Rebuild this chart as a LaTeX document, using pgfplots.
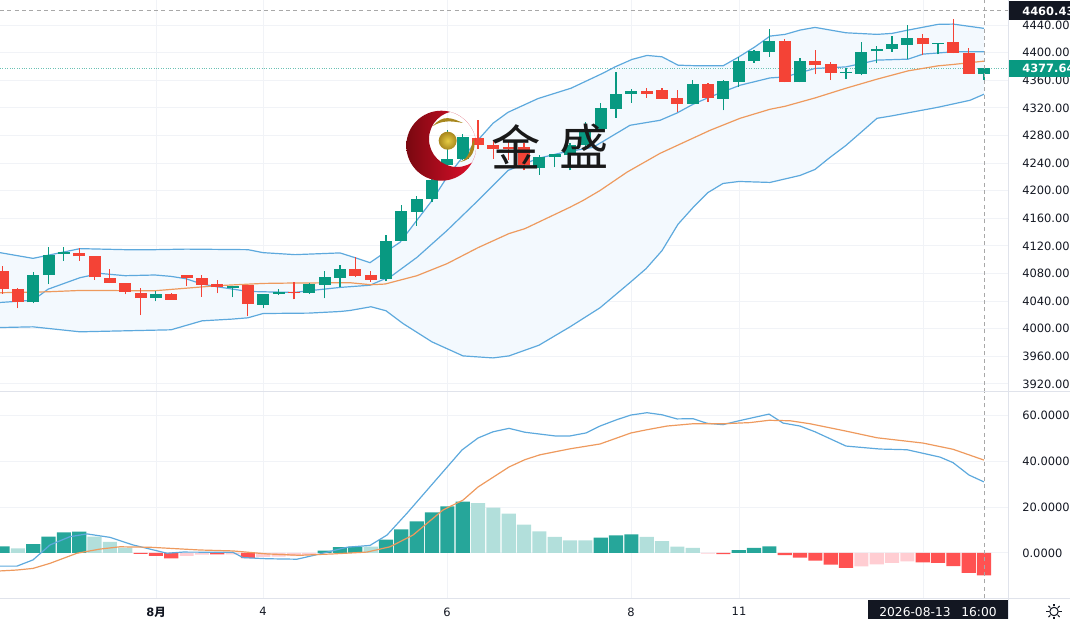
\documentclass[border=0pt]{standalone}
\usepackage{fontspec}
\usepackage{pgfplots}
\usepackage{pgfplotstable}
\pgfplotsset{compat=1.18}
\usepgfplotslibrary{fillbetween}
\setmainfont{DejaVu Sans}
\newfontfamily\cjk{Noto Sans CJK SC}

\definecolor{candleup}{HTML}{089981}
\definecolor{candledown}{HTML}{F44336}
\definecolor{bandline}{HTML}{5DA9DD}
\definecolor{bandfill}{HTML}{F3F9FE}
\definecolor{slowline}{HTML}{EE9A5E}
\definecolor{histup}{HTML}{26A69A}
\definecolor{histuplight}{HTML}{B2DFDB}
\definecolor{histdown}{HTML}{FF5252}
\definecolor{histdownlight}{HTML}{FFCDD2}
\definecolor{gridcol}{HTML}{F1F3F7}
\definecolor{framecol}{HTML}{E0E3EB}
\definecolor{labelcol}{HTML}{131722}
\definecolor{dashcol}{HTML}{A8A8A8}
\definecolor{logodark}{HTML}{7A0810}
\definecolor{logomid}{HTML}{DC001C}
\definecolor{logolight}{HTML}{EE1030}
\definecolor{goldhi}{HTML}{E6CC45}
\definecolor{goldlo}{HTML}{A8871E}

% rising candles: x open high low close
\pgfplotstableread{
x open high low close
33.2 4038.1 4081.7 4036.7 4077.9
48.5 4077.9 4119.0 4064.8 4107.4
63.9 4108.4 4118.0 4098.7 4111.7
155.9 4044.5 4055.1 4039.6 4050.7
232.6 4059.5 4061.3 4045.4 4061.3
263.3 4034.8 4050.7 4029.4 4050.7
278.6 4050.7 4057.6 4048.9 4053.2
309.3 4051.8 4066.3 4050.7 4064.8
324.6 4063.8 4083.7 4043.9 4075.0
340.0 4074.0 4092.9 4059.9 4086.6
386.0 4072.0 4136.0 4069.6 4127.7
401.3 4127.7 4178.6 4127.7 4170.3
416.7 4169.8 4193.0 4149.5 4188.3
432.0 4187.3 4220.7 4183.3 4214.9
447.4 4236.7 4287.5 4229.4 4246.4
462.7 4246.4 4281.7 4243.9 4277.8
539.4 4233.3 4251.2 4223.2 4248.7
554.7 4248.7 4253.6 4234.2 4252.6
570.0 4251.2 4268.6 4229.4 4265.7
585.4 4265.7 4299.0 4258.4 4290.0
600.7 4289.0 4327.1 4289.0 4320.5
616.0 4319.0 4371.7 4306.0 4340.8
631.4 4340.2 4347.0 4327.1 4344.1
692.8 4325.7 4361.1 4325.7 4355.3
723.4 4333.0 4360.1 4316.5 4358.7
738.8 4357.6 4394.0 4350.4 4388.1
754.0 4387.7 4403.7 4385.2 4402.2
769.4 4400.8 4434.2 4394.0 4416.8
800.0 4356.8 4391.6 4356.8 4387.3
846.0 4370.7 4378.0 4361.6 4371.7
861.4 4368.8 4414.9 4367.0 4401.2
876.8 4401.8 4409.5 4384.4 4405.6
892.0 4405.1 4424.5 4401.2 4412.0
907.4 4411.4 4440.0 4390.6 4420.7
938.0 4412.7 4413.6 4397.4 4413.6
984.0 4369.3 4377.6 4360.1 4377.6
}\upcandles

% falling candles: x open high low close
\pgfplotstableread{
x open high low close
2.5 4084.2 4091.4 4050.7 4057.6
17.9 4057.6 4059.5 4029.4 4039.1
79.2 4109.9 4117.1 4098.2 4104.9
94.5 4105.5 4105.9 4071.1 4074.4
109.9 4074.0 4086.6 4066.0 4066.7
125.2 4066.7 4066.7 4049.7 4053.2
140.6 4052.2 4059.0 4019.8 4044.5
171.2 4049.7 4051.8 4042.0 4042.0
186.6 4078.3 4078.3 4062.4 4073.5
201.9 4074.0 4077.9 4046.4 4063.8
217.3 4064.3 4071.1 4051.2 4059.9
247.9 4063.4 4063.4 4017.8 4035.8
294.0 4053.6 4067.7 4042.5 4051.8
355.3 4087.0 4103.5 4074.4 4076.9
370.7 4078.3 4084.2 4068.2 4071.1
478.0 4276.3 4303.0 4261.0 4265.7
493.4 4265.7 4273.0 4246.4 4261.0
508.7 4262.8 4271.5 4243.9 4259.9
524.0 4262.8 4268.6 4229.4 4236.7
646.8 4344.1 4348.5 4335.0 4340.8
662.0 4346.6 4349.5 4333.0 4333.0
677.4 4334.4 4346.6 4314.0 4325.7
708.0 4355.3 4356.2 4328.6 4334.0
784.8 4416.3 4419.2 4356.8 4356.8
815.4 4387.7 4403.7 4368.4 4381.5
830.8 4383.8 4385.8 4360.1 4370.7
922.8 4421.1 4426.9 4396.4 4412.0
953.4 4414.9 4448.7 4398.9 4398.9
968.8 4399.8 4407.0 4368.8 4369.3
}\downcandles

\pgfplotstableread{
x y
0 4110.3
33 4102.0
80 4116.1
125 4114.6
155 4114.6
186 4115.4
248 4114.6
263 4110.3
295 4107.4
340 4109.9
355 4103.0
370 4095.8
386 4111.7
400 4125.3
432 4185.8
447 4219.7
460 4243.9
475 4268.6
493 4297.7
508 4313.6
538 4333.5
571 4348.5
603 4370.3
615 4379.4
632 4390.2
647 4396.0
662 4394.0
678 4381.9
692 4381.2
723 4380.9
739 4394.0
755 4408.5
770 4424.0
785 4426.5
800 4432.7
815 4436.6
846 4428.8
877 4426.5
892 4427.9
908 4432.7
938 4441.0
953 4441.4
984 4435.2
}\bandupper

\pgfplotstableread{
x y
0 4038.1
33 4041.3
48 4057.3
80 4074.0
100 4080.2
125 4076.9
155 4077.9
171 4075.9
186 4072.5
202 4064.8
217 4060.9
232 4057.6
248 4054.1
263 4053.6
294 4052.6
309 4055.1
340 4059.9
370 4063.1
392 4076.9
417 4103.5
447 4142.3
478 4185.8
508 4229.4
538 4246.8
563 4255.5
593 4262.8
630 4294.8
660 4302.0
677 4312.6
693 4325.2
710 4335.9
740 4352.8
770 4363.4
785 4364.9
815 4377.1
846 4379.4
877 4389.2
908 4390.6
923 4397.9
953 4401.2
984 4401.2
}\bandmid

\pgfplotstableread{
x y
0 4001.8
33 4002.8
80 3995.6
155 3998.0
171 3998.5
202 4011.5
232 4014.0
248 4015.9
263 4022.1
309 4022.7
340 4025.0
350 4026.5
371 4031.9
386 4026.1
403 4007.6
432 3981.0
463 3960.7
493 3957.8
509 3960.7
539 3976.2
570 4002.8
600 4030.4
631 4068.2
646 4087.0
662 4113.2
678 4151.4
693 4175.6
708 4197.4
723 4210.5
739 4213.4
770 4212.0
800 4222.1
815 4230.8
830 4248.3
846 4265.7
861 4284.6
877 4304.9
892 4308.5
938 4320.9
970 4331.0
984 4339.8
}\bandlower

\pgfplotstableread{
x y
0 4052.2
48 4053.6
80 4055.5
155 4055.1
171 4057.0
217 4062.4
263 4065.7
294 4066.3
350 4066.7
371 4063.8
385 4064.8
417 4076.9
447 4094.3
478 4117.5
509 4137.9
525 4145.1
570 4176.1
583 4185.8
600 4200.3
627 4226.9
660 4254.1
710 4287.5
740 4304.9
770 4318.0
785 4322.3
815 4334.4
846 4348.5
877 4361.6
908 4373.6
938 4380.9
953 4382.9
984 4387.7
}\slowma

% macd histogram, four shades
\pgfplotstableread{
x y
2.5 2.9
33.2 3.9
48.5 7.1
63.9 9.0
79.2 9.3
324.6 1.0
340.0 2.5
355.3 2.8
386.0 5.8
401.3 10.3
416.7 13.8
432.0 17.7
447.4 20.3
462.7 22.3
600.7 6.7
616.0 7.7
631.4 8.1
738.8 1.2
754.0 2.2
769.4 2.9
}\histA
\pgfplotstableread{
x y
17.9 2.0
94.5 7.1
109.9 4.8
125.2 2.3
370.7 2.8
478.0 21.7
493.4 19.7
508.7 17.1
524.0 12.3
539.4 9.4
554.7 7.0
570.0 5.5
585.4 5.5
646.8 7.0
662.0 5.2
677.4 2.8
692.8 2.2
}\histB
\pgfplotstableread{
x y
140.6 -0.4
155.9 -1.3
171.2 -2.3
217.3 -0.6
247.9 -2.2
723.4 -0.5
784.8 -0.9
800.0 -2.0
815.4 -3.3
830.8 -5.1
846.0 -6.5
922.8 -4.1
938.0 -4.3
953.4 -5.7
968.8 -8.6
984.0 -9.7
}\histC
\pgfplotstableread{
x y
186.6 -1.2
201.9 -0.7
232.6 -0.6
263.3 -1.7
278.6 -1.6
294.0 -1.4
309.3 -0.9
708.0 -0.3
861.4 -5.8
876.8 -4.9
892.0 -4.3
907.4 -3.6
}\histD

\pgfplotstableread{
x y
0 -5.7
17 -5.7
33 -3.0
50 3.5
70 7.1
87 8.3
110 6.8
133 3.5
167 -0.1
183 0.4
233 0.3
243 -2.0
267 -2.5
297 -2.7
320 -0.4
347 2.5
370 3.3
387 7.8
407 17.3
420 23.8
462 44.8
478 50.0
493 52.7
509 54.2
525 52.5
555 50.9
570 50.9
586 52.2
600 55.2
617 58.0
631 60.0
647 61.0
662 60.1
677 58.3
693 58.4
707 56.4
723 55.8
739 57.5
769 60.4
783 56.5
800 55.2
815 52.7
846 46.5
880 45.2
907 44.9
940 41.7
953 39.3
969 33.9
984 30.9
}\macdline

\pgfplotstableread{
x y
0 -7.8
17 -7.4
33 -6.7
50 -4.5
77 -0.1
100 1.7
120 2.7
150 2.5
200 1.3
233 0.9
267 -0.4
300 -1.0
333 -0.4
367 0.4
390 2.7
413 7.8
443 18.7
463 23.0
478 28.7
509 37.4
525 40.6
540 42.7
570 45.3
600 47.4
631 52.2
647 53.6
667 55.2
693 56.2
723 56.2
750 56.7
769 57.7
790 57.5
810 56.2
846 53.0
877 50.1
923 47.8
953 45.1
984 40.4
}\signalline

\pgfplotsset{
  pane/.style={
    scale only axis,
    width=756pt,
    xmin=0, xmax=1008,
    axis line style={draw=none},
    major tick length=0pt,
    tick style={draw=none},
    grid=major,
    grid style={gridcol, line width=.75pt},
    xtick={156,263,447,631,739,923},
    yticklabel pos=right,
    yticklabel shift=10.5pt,
    tick label style={font=\fontsize{8.6}{10}\selectfont, text=labelcol, inner sep=0pt},
    /pgf/number format/assume math mode=true,
    /pgf/number format/fixed,
    /pgf/number format/fixed zerofill,
    /pgf/number format/1000 sep={},
  },
  bandstyle/.style={bandline, line width=.9pt},
  slowstyle/.style={slowline, line width=.9pt},
  dashstyle/.style={dashcol, line width=.7pt, dash pattern=on 3pt off 2.5pt},
  wick/.style 2 args={draw=none, no marks, forget plot,
    error bars/.cd, y dir=plus, y explicit, error mark=none,
    error bar style={draw=#1, solid, line width=#2}},
}

\begin{document}
\begin{tikzpicture}

% price pane
\begin{axis}[pane,
    at={(0pt,170.25pt)}, anchor=south west,
    height=294pt,
    ymin=3908.4, ymax=4476.3,
    ytick={3920,3960,...,4440},
    xticklabels={},
    /pgf/number format/precision=2,
]
\addplot[name path=up, draw=none, forget plot] table[x=x, y=y] {\bandupper};
\addplot[name path=low, draw=none, forget plot] table[x=x, y=y] {\bandlower};
\addplot[bandfill, forget plot] fill between[of=up and low];

\addplot[dashstyle] coordinates {(0,4460.43)(1008,4460.43)};
\addplot[candleup!60, line width=.8pt, dash pattern=on .8pt off 1pt] coordinates {(0,4377.64)(1008,4377.64)};

\addplot[bandstyle] table[x=x, y=y] {\bandupper};
\addplot[bandstyle] table[x=x, y=y] {\bandmid};
\addplot[bandstyle] table[x=x, y=y] {\bandlower};
\addplot[slowstyle] table[x=x, y=y] {\slowma};

% wicks and bodies
\addplot[wick={candleup}{.8pt}] table[x=x, y=low, y error plus expr=\thisrow{high}-\thisrow{low}] {\upcandles};
\addplot[wick={candledown}{.8pt}] table[x=x, y=low, y error plus expr=\thisrow{high}-\thisrow{low}] {\downcandles};
\addplot[wick={candleup}{9pt}] table[x=x, y=open, y error plus expr=\thisrow{close}-\thisrow{open}] {\upcandles};
\addplot[wick={candledown}{9pt}] table[x=x, y=close, y error plus expr=\thisrow{open}-\thisrow{close}] {\downcandles};

\addplot[dashstyle] coordinates {(984,3908.4)(984,4476.3)};
\end{axis}

% macd pane
\begin{axis}[pane,
    at={(0pt,15.75pt)}, anchor=south west,
    height=154.5pt,
    ymin=-19.57, ymax=70,
    ytick={0,20,40,60},
    xticklabels={\bfseries 8\cjk 月,4,6,8,11,},
    xticklabel shift=7pt,
    /pgf/number format/precision=4,
]
\addplot[ybar, bar width=10.6pt, fill=histup, draw=none] table[x=x, y=y] {\histA};
\addplot[ybar, bar width=10.6pt, fill=histuplight, draw=none] table[x=x, y=y] {\histB};
\addplot[ybar, bar width=10.6pt, fill=histdown, draw=none] table[x=x, y=y] {\histC};
\addplot[ybar, bar width=10.6pt, fill=histdownlight, draw=none] table[x=x, y=y] {\histD};
\addplot[bandstyle] table[x=x, y=y] {\macdline};
\addplot[slowstyle] table[x=x, y=y] {\signalline};
\addplot[dashstyle] coordinates {(984,-19.57)(984,70)};
\end{axis}

% frame, price tags, watermark: x and y below are image pixels
\begin{scope}[x=.75pt, y=-.75pt, shift={(0pt,464.25pt)}]
  \draw[framecol, line width=1pt] (0,391.5) -- (1070,391.5);
  \draw[framecol, line width=1pt] (0,598.8) -- (1070,598.8);
  \draw[framecol, line width=1pt] (1008.7,0) -- (1008.7,619);

  \fill[labelcol] (1009,1) rectangle (1070,20.5);
  \node[anchor=west, inner sep=0pt, text=white, font=\fontsize{8.6}{10}\selectfont\bfseries] at (1022,11) {4460.43};
  \fill[candleup] (1009,60) rectangle (1070,77);
  \node[anchor=west, inner sep=0pt, text=white, font=\fontsize{8.6}{10}\selectfont\bfseries] at (1022,68.5) {4377.64};
  \fill[labelcol] (868,599.5) rectangle (1008,619);
  \node[inner sep=0pt, text=white, font=\fontsize{9.2}{10}\selectfont] at (938,612) {2026-08-13\hspace{8pt}16:00};

  % settings icon
  \draw[labelcol, line width=.8pt] (1054,611.5) circle (4.2);
  \foreach \a in {0,45,...,315}
    \draw[labelcol, line width=.8pt] (1054,611.5) ++(\a:5.4) -- ++(\a:2.4);

  % crescent
  \begin{scope}
    \clip (441.3,145.7) circle (35);
    \shade[even odd rule, left color=logodark, middle color=logomid, right color=logolight]
      (441.3,145.7) circle (35) (457,139) circle (28);
  \end{scope}
  \shade[inner color=goldhi, outer color=goldlo] (447.7,140.7) circle (9);
  \fill[goldlo] (433,126) .. controls (443,114) and (452,118) .. (463,123)
    .. controls (452,121) and (442,120) .. cycle;
  \fill[goldlo] (460,162) .. controls (470,158) and (470,148) .. (474,139)
    .. controls (476,150) and (472,160) .. cycle;

  \node[inner sep=0pt, text=black!90, font=\fontsize{37}{40}\selectfont\cjk] at (516.5,146.5) {金};
  \node[inner sep=0pt, text=black!90, font=\fontsize{37}{40}\selectfont\cjk] at (584,146.5) {盛};
\end{scope}
\pgfresetboundingbox
\path[use as bounding box] (0,0) rectangle (802.5pt,464.25pt);
\end{tikzpicture}
\end{document}
